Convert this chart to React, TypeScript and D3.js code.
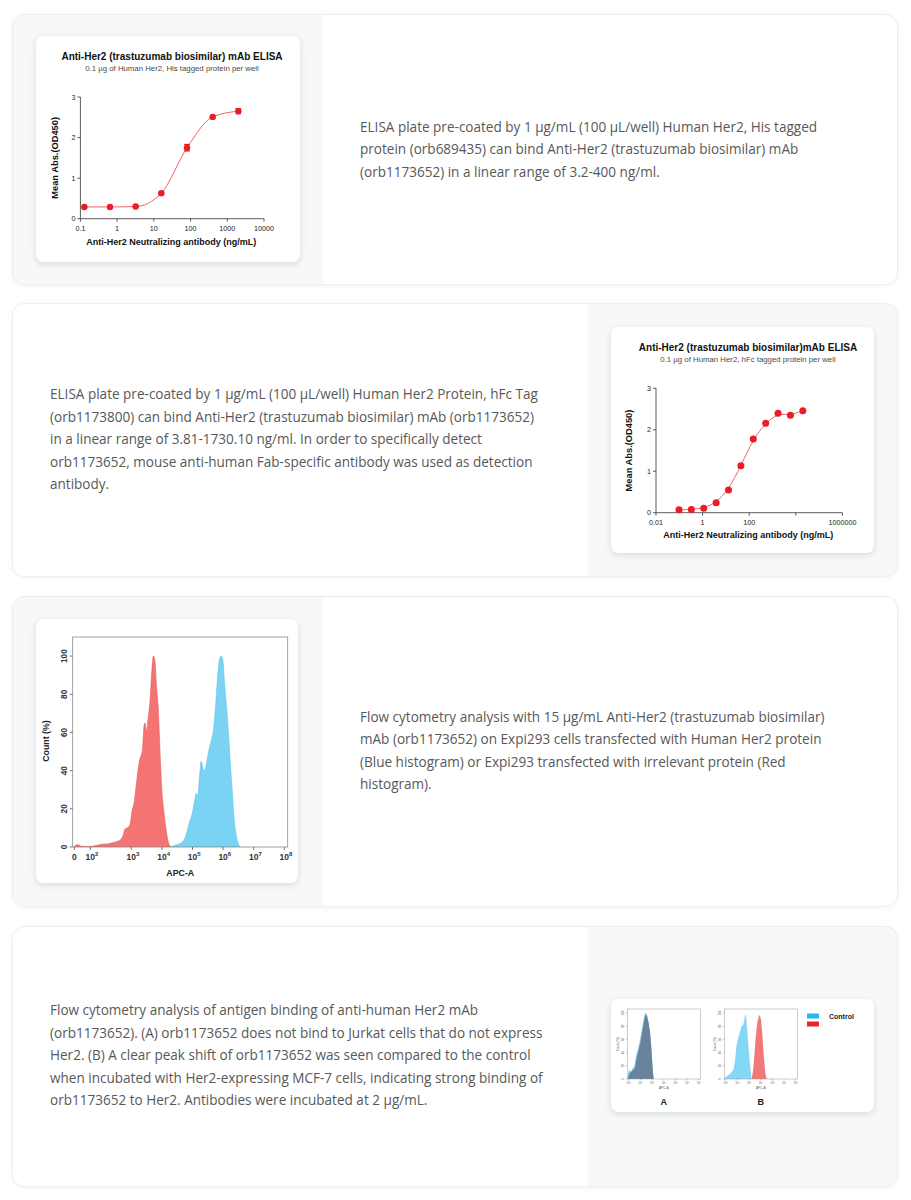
import React from "react";
import * as d3 from "d3";

// ---------- DATA ----------
const elisa1Conc = [0.128, 0.64, 3.2, 16, 80, 400, 2000];
const elisa1OD = [0.29, 0.29, 0.3, 0.63, 1.75, 2.51, 2.65];
const elisa1Err = [0.01, 0.01, 0.01, 0.02, 0.08, 0.02, 0.06];
const elisa1XTicks = [0.1, 1, 10, 100, 1000, 10000];
const elisa1XLabels = ["0.1", "1", "10", "100", "1000", "10000"];

const elisa2Conc = [0.0969, 0.329, 1.12, 3.81, 12.95, 44.0, 149.7, 509, 1730.1, 5882, 20000];
const elisa2OD = [0.07, 0.08, 0.11, 0.24, 0.55, 1.13, 1.78, 2.16, 2.4, 2.35, 2.46];
const elisa2XTicks = [0.01, 1, 100, 10000, 1000000];
const elisa2XLabels = ["0.01", "1", "100", "", "1000000"];

const elisaYTicks = [0, 1, 2, 3];

// flow cytometry (x in log10 APC-A decades, 0 = zero), y = Count (%)
const flowRedX = [0, 0.21, 0.54, 0.83, 1.25, 2.02, 2.14, 2.3, 2.42, 2.54, 2.67, 2.75, 2.8, 2.85, 2.93, 2.98, 3.02, 3.1, 3.15, 3.26, 3.37, 3.42, 3.45, 3.5, 3.55, 3.61, 3.67, 3.72, 3.77, 3.82, 3.88, 3.93, 3.99, 4.07, 4.15, 4.21, 4.29];
const flowRedY = [0, 1, 1.2, 0.4, 0.2, 0.3, 0.8, 1.5, 1.6, 2.2, 3, 4, 6, 9.5, 10.4, 13, 18.6, 24, 31, 44.6, 51.7, 64, 65, 60.5, 67.5, 76.3, 92, 100, 98, 85, 72.8, 53.4, 32, 18, 7.7, 2.5, 0];
const flowBlueX = [4.29, 4.39, 4.55, 4.66, 4.74, 4.83, 4.9, 4.99, 5.08, 5.12, 5.17, 5.24, 5.28, 5.35, 5.4, 5.48, 5.55, 5.62, 5.69, 5.75, 5.81, 5.88, 5.94, 5.99, 6.05, 6.11, 6.18, 6.23, 6.29, 6.35, 6.43, 6.5, 6.58];
const flowBlueY = [0, 0.7, 1.5, 2.5, 4, 8.6, 13, 17.4, 25, 28, 27, 39, 45, 41, 40, 46, 51.7, 56, 62, 72.8, 86.8, 98, 100, 98, 85, 73.6, 58.7, 44.6, 32, 16.5, 6, 1.6, 0];
const flowXTicks = [0, 2, 3, 4, 5, 6, 7, 8];
const flowYTicks = [0, 20, 40, 60, 80, 100];

// small panels A / B
const aBlueX = [0.9, 0.94, 1.05, 1.18, 1.32, 1.47, 1.62, 1.78, 1.93, 2.08, 2.23, 2.37, 2.48, 2.6, 2.74, 2.88, 3.0, 3.12];
const aBlueY = [0, 8, 14, 11, 16, 19, 35, 45, 57, 70, 86, 99, 100, 93, 80, 57, 26, 0];
const aDarkX = [0.95, 0.99, 1.1, 1.25, 1.39, 1.53, 1.68, 1.82, 1.96, 2.11, 2.25, 2.39, 2.54, 2.68, 2.82, 2.94, 3.05, 3.14];
const aDarkY = [0, 4, 9, 11.6, 14, 16.7, 31.8, 42, 52, 67, 82, 95, 97.5, 87, 72, 47, 14, 0];
const bBlueX = [0.9, 0.93, 1.075, 1.36, 1.65, 1.79, 1.93, 2.07, 2.22, 2.36, 2.5, 2.64, 2.73, 2.84, 2.96, 3.07, 3.21];
const bBlueY = [0, 1.5, 4, 7.6, 14, 27, 52, 62, 72, 80, 82, 95, 97.5, 72, 47, 22, 0];
const bRedX = [3.21, 3.36, 3.5, 3.64, 3.79, 3.87, 3.99, 4.13, 4.27, 4.41, 4.53];
const bRedY = [0, 16.7, 47, 77, 92, 96.5, 92, 67, 32, 6.6, 0];
const smallXTicks = [1, 2, 3, 4, 5, 6, 7];
const smallYTicks = [0, 20, 40, 60, 80, 100];

const text1 = [
  "ELISA plate pre-coated by 1 µg/mL (100 µL/well) Human Her2, His tagged",
  "protein (orb689435) can bind Anti-Her2 (trastuzumab biosimilar) mAb",
  "(orb1173652) in a linear range of 3.2-400 ng/ml.",
];
const text2 = [
  "ELISA plate pre-coated by 1 µg/mL (100 µL/well) Human Her2 Protein, hFc Tag",
  "(orb1173800) can bind Anti-Her2 (trastuzumab biosimilar) mAb (orb1173652)",
  "in a linear range of 3.81-1730.10 ng/ml. In order to specifically detect",
  "orb1173652, mouse anti-human Fab-specific antibody was used as detection",
  "antibody.",
];
const text3 = [
  "Flow cytometry analysis with 15 µg/mL Anti-Her2 (trastuzumab biosimilar)",
  "mAb (orb1173652) on Expi293 cells transfected with Human Her2 protein",
  "(Blue histogram) or Expi293 transfected with irrelevant protein (Red",
  "histogram).",
];
const text4 = [
  "Flow cytometry analysis of antigen binding of anti-human Her2 mAb",
  "(orb1173652). (A) orb1173652 does not bind to Jurkat cells that do not express",
  "Her2. (B) A clear peak shift of orb1173652 was seen compared to the control",
  "when incubated with Her2-expressing MCF-7 cells, indicating strong binding of",
  "orb1173652 to Her2. Antibodies were incubated at 2 µg/mL.",
];

// ---------- STYLE ----------
const SANS = "'Liberation Sans', Arial, Helvetica, sans-serif";
const BODY = "'Open Sans', 'Noto Sans', sans-serif";
const TEXT_COLOR = "#585858";
const AXIS = "#333";

function Card({ id, y, h, side }: { id: string; y: number; h: number; side: "left" | "right" }) {
  const x = 12.5, w = 885, r = 12, pw = 310;
  return (
    <g>
      <defs>
        <clipPath id={id}>
          <rect x={x} y={y} width={w} height={h} rx={r} />
        </clipPath>
      </defs>
      <rect x={x} y={y} width={w} height={h} rx={r} fill="#fff" filter="url(#cardShadow)" />
      <g clipPath={`url(#${id})`}>
        <rect x={side === "left" ? x : x + w - pw} y={y} width={pw} height={h} fill="#f7f8fa" />
      </g>
      <rect x={x} y={y} width={w} height={h} rx={r} fill="none" stroke="#eceef1" strokeWidth={1} />
    </g>
  );
}

function Paragraph({ x, y, lines }: { x: number; y: number; lines: string[] }) {
  return (
    <text fontFamily={BODY} fontSize={13.55} fill={TEXT_COLOR}>
      {lines.map((l, i) => (
        <tspan key={i} x={x} y={y + i * 22.5}>
          {l}
        </tspan>
      ))}
    </text>
  );
}

function Box({ x, y, w, h }: { x: number; y: number; w: number; h: number }) {
  return <rect x={x} y={y} width={w} height={h} rx={8} fill="#fff" filter="url(#boxShadow)" />;
}

type ElisaProps = {
  conc: number[];
  od: number[];
  err?: number[];
  xDomain: [number, number];
  xRange: [number, number];
  yRange: [number, number];
  xTicks: number[];
  xLabels: string[];
  title: string;
  subtitle: string;
  cx: number;
  titleY: number;
  yTitleX: number;
  xTitleY: number;
  curve: d3.CurveFactory;
  r: number;
};

function Elisa(p: ElisaProps) {
  const x = d3.scaleLog().domain(p.xDomain).range(p.xRange);
  const y = d3.scaleLinear().domain([0, 3]).range(p.yRange);
  const pts = p.conc.map((c, i) => [x(c), y(p.od[i])] as [number, number]);
  const line = d3.line().curve(p.curve)(pts) || "";
  const x0 = p.xRange[0];
  const y0 = p.yRange[0];
  return (
    <g fontFamily={SANS}>
      <text x={p.cx} y={p.titleY} textAnchor="middle" fontWeight="bold" fontSize={10} fill="#111">
        {p.title}
      </text>
      <text x={p.cx} y={p.titleY + 11} textAnchor="middle" fontSize={7.8} fill="#4a4a4a">
        {p.subtitle}
      </text>
      <line x1={x0} x2={x0} y1={y0} y2={p.yRange[1]} stroke={AXIS} strokeWidth={0.8} />
      <line x1={x0} x2={p.xRange[1]} y1={y0} y2={y0} stroke={AXIS} strokeWidth={0.8} />
      {elisaYTicks.map((t) => (
        <g key={t}>
          <line x1={x0 - 3} x2={x0} y1={y(t)} y2={y(t)} stroke={AXIS} strokeWidth={0.8} />
          <text x={x0 - 5} y={y(t) + 2.5} textAnchor="end" fontSize={7.2} fill="#222">
            {t}
          </text>
        </g>
      ))}
      {p.xTicks.map((t, i) => (
        <g key={t}>
          <line x1={x(t)} x2={x(t)} y1={y0} y2={y0 + 3} stroke={AXIS} strokeWidth={0.8} />
          <text x={x(t)} y={y0 + 12} textAnchor="middle" fontSize={7.2} fill="#222">
            {p.xLabels[i]}
          </text>
        </g>
      ))}
      <text
        transform={`translate(${p.yTitleX},${(p.yRange[0] + p.yRange[1]) / 2}) rotate(-90)`}
        textAnchor="middle"
        fontWeight="bold"
        fontSize={9.3}
        fill="#111"
      >
        Mean Abs.(OD450)
      </text>
      <text x={(p.xRange[0] + p.xRange[1]) / 2 - 1} y={p.xTitleY} textAnchor="middle" fontWeight="bold" fontSize={9} fill="#111">
        Anti-Her2 Neutralizing antibody (ng/mL)
      </text>
      <path d={line} fill="none" stroke="#f26464" strokeWidth={1} />
      {p.err &&
        p.conc.map((c, i) => (
          <g key={"e" + i} stroke="#e8141c" strokeWidth={1.2}>
            <line x1={x(c)} x2={x(c)} y1={y(p.od[i] - p.err![i])} y2={y(p.od[i] + p.err![i])} />
            <line x1={x(c) - 2.8} x2={x(c) + 2.8} y1={y(p.od[i] - p.err![i])} y2={y(p.od[i] - p.err![i])} />
            <line x1={x(c) - 2.8} x2={x(c) + 2.8} y1={y(p.od[i] + p.err![i])} y2={y(p.od[i] + p.err![i])} />
          </g>
        ))}
      {pts.map((q, i) => (
        <circle key={i} cx={q[0]} cy={q[1]} r={p.r} fill="#ec1c24" />
      ))}
    </g>
  );
}

function areaPath(xs: number[], ys: number[], xs_: (v: number) => number, ysc: (v: number) => number, curve: d3.CurveFactory) {
  const data = xs.map((v, i) => [v, ys[i]] as [number, number]);
  return (
    d3
      .area<[number, number]>()
      .x((d) => xs_(d[0]))
      .y0(ysc(0))
      .y1((d) => ysc(d[1]))
      .curve(curve)(data) || ""
  );
}

function FlowMain() {
  const fx = 72.7, fy = 637, fw = 215, fh = 210;
  const x = d3.scaleLinear().domain([0, 2, 3, 8]).range([74.3, 90.3, 131.3, 284.3]);
  const y = d3.scaleLinear().domain([0, 110]).range([fy + fh, fy]);
  return (
    <g fontFamily={SANS}>
      <defs>
        <clipPath id="flowClip">
          <rect x={fx} y={fy} width={fw} height={fh} />
        </clipPath>
      </defs>
      <g clipPath="url(#flowClip)">
        <path d={areaPath(flowRedX, flowRedY, x, y, d3.curveMonotoneX)} fill="#f47474" stroke="#e65e5e" strokeWidth={0.6} />
        <path d={areaPath(flowBlueX, flowBlueY, x, y, d3.curveMonotoneX)} fill="#7ad3f2" stroke="#5cc3ea" strokeWidth={0.6} />
      </g>
      <rect x={fx} y={fy} width={fw} height={fh} fill="none" stroke="#8a8a8a" strokeWidth={0.8} />
      {flowYTicks.map((t) => (
        <g key={t}>
          <line x1={fx - 3} x2={fx} y1={y(t)} y2={y(t)} stroke="#555" strokeWidth={0.8} />
          <text transform={`translate(${fx - 6},${y(t)}) rotate(-90)`} textAnchor="middle" fontSize={8.3} fontWeight="bold" fill="#333">
            {t}
          </text>
        </g>
      ))}
      {flowXTicks.map((t) => (
        <g key={t}>
          <line x1={x(t)} x2={x(t)} y1={fy + fh} y2={fy + fh + 3} stroke="#555" strokeWidth={0.8} />
          {t === 0 ? (
            <text x={x(t)} y={fy + fh + 12.5} textAnchor="middle" fontSize={8.5} fontWeight="bold" fill="#333">
              0
            </text>
          ) : (
            <text x={x(t) - 4.7} y={fy + fh + 12.5} fontSize={8.5} fontWeight="bold" fill="#333">
              10
              <tspan dy={-4} fontSize={6}>
                {t}
              </tspan>
            </text>
          )}
        </g>
      ))}
      <text transform={`translate(48.7,741) rotate(-90)`} textAnchor="middle" fontSize={8.8} fontWeight="bold" fill="#222">
        Count (%)
      </text>
      <text x={180.3} y={876} textAnchor="middle" fontSize={8.8} fontWeight="bold" fill="#222">
        APC-A
      </text>
    </g>
  );
}

function SmallPanel({ x0, label, children }: { x0: number; label: string; children: (x: any, y: any) => React.ReactNode }) {
  const fw = 73, fy = 1009, fh = 70;
  const x = d3.scaleLinear().domain([0.875, 7.125]).range([x0, x0 + fw]);
  const y = d3.scaleLinear().domain([0, 106]).range([fy + fh, fy]);
  return (
    <g fontFamily={SANS}>
      {children(x, y)}
      <rect x={x0} y={fy} width={fw} height={fh} fill="none" stroke="#9a9a9a" strokeWidth={0.5} />
      {smallYTicks.map((t) => (
        <g key={t}>
          <line x1={x0 - 1.5} x2={x0} y1={y(t)} y2={y(t)} stroke="#777" strokeWidth={0.4} />
          <text transform={`translate(${x0 - 3},${y(t)}) rotate(-90)`} textAnchor="middle" fontSize={2.8} fill="#666">
            {t}
          </text>
        </g>
      ))}
      {smallXTicks.map((t) => (
        <g key={t}>
          <line x1={x(t)} x2={x(t)} y1={fy + fh} y2={fy + fh + 1.5} stroke="#777" strokeWidth={0.4} />
          <text x={x(t)} y={fy + fh + 4.8} textAnchor="middle" fontSize={2.8} fill="#666">
            10
            <tspan dy={-1} fontSize={2.1}>
              {t}
            </tspan>
          </text>
        </g>
      ))}
      <text transform={`translate(${x0 - 8},${fy + fh / 2}) rotate(-90)`} textAnchor="middle" fontSize={3.2} fill="#555">
        Count (%)
      </text>
      <text x={x0 + fw / 2} y={fy + fh + 9.5} textAnchor="middle" fontSize={3.2} fill="#555">
        APC-A
      </text>
      <text x={x0 + fw / 2} y={1104.5} textAnchor="middle" fontSize={9} fontWeight="bold" fill="#222">
        {label}
      </text>
    </g>
  );
}

export default function App() {
  return (
    <svg width={911} height={1200} style={{ position: "absolute", left: 0, top: 0, background: "#fff" }}>
      <defs>
        <filter id="cardShadow" x="-5%" y="-10%" width="110%" height="125%">
          <feDropShadow dx="0" dy="1" stdDeviation="2.5" floodColor="#000" floodOpacity="0.05" />
        </filter>
        <filter id="boxShadow" x="-10%" y="-10%" width="120%" height="125%">
          <feDropShadow dx="0" dy="2" stdDeviation="3" floodColor="#000" floodOpacity="0.13" />
        </filter>
      </defs>
      <rect x={0} y={0} width={911} height={1200} fill="#fff" />

      {/* Card 1 */}
      <Card id="c1" y={14.5} h={270} side="left" />
      <Box x={36} y={36} w={264} h={226} />
      <Elisa
        conc={elisa1Conc}
        od={elisa1OD}
        err={elisa1Err}
        xDomain={[0.1, 10000]}
        xRange={[80.4, 264]}
        yRange={[218.7, 97]}
        xTicks={elisa1XTicks}
        xLabels={elisa1XLabels}
        title="Anti-Her2 (trastuzumab biosimilar) mAb ELISA"
        subtitle="0.1 µg of Human Her2, His tagged protein per well"
        cx={172}
        titleY={59.5}
        yTitleX={58}
        xTitleY={245}
        curve={d3.curveMonotoneX}
        r={3.2}
      />
      <Paragraph x={360} y={131.5} lines={text1} />

      {/* Card 2 */}
      <Card id="c2" y={303.5} h={273} side="right" />
      <Box x={611} y={327} w={263} h={226} />
      <Elisa
        conc={elisa2Conc}
        od={elisa2OD}
        xDomain={[0.01, 1000000]}
        xRange={[656, 842.4]}
        yRange={[512.7, 388.3]}
        xTicks={elisa2XTicks}
        xLabels={elisa2XLabels}
        title="Anti-Her2 (trastuzumab biosimilar)mAb ELISA"
        subtitle="0.1 µg of Human Her2, hFc tagged protein per well"
        cx={748}
        titleY={350.5}
        yTitleX={632}
        xTitleY={538}
        curve={d3.curveBasis}
        r={3.5}
      />
      <Paragraph x={50} y={399} lines={text2} />

      {/* Card 3 */}
      <Card id="c3" y={596.5} h={310} side="left" />
      <Box x={36} y={619} w={262} h={264} />
      <FlowMain />
      <Paragraph x={360} y={721.5} lines={text3} />

      {/* Card 4 */}
      <Card id="c4" y={926.5} h={260} side="right" />
      <Box x={611} y={999} w={263} h={113} />
      <SmallPanel x0={627.3} label="A">
        {(x, y) => (
          <g>
            <path d={areaPath(aBlueX, aBlueY, x, y, d3.curveLinear)} fill="#7fd0f0" />
            <path d={areaPath(aDarkX, aDarkY, x, y, d3.curveLinear)} fill="#687891" opacity={0.88} />
          </g>
        )}
      </SmallPanel>
      <SmallPanel x0={724.3} label="B">
        {(x, y) => (
          <g>
            <path d={areaPath(bBlueX, bBlueY, x, y, d3.curveLinear)} fill="#84d7f5" />
            <path d={areaPath(bRedX, bRedY, x, y, d3.curveMonotoneX)} fill="#f27878" />
          </g>
        )}
      </SmallPanel>
      <rect x={807} y={1013.5} width={12} height={5} fill="#29b6e8" />
      <rect x={807} y={1021.5} width={12} height={5} fill="#e8262b" />
      <text x={829} y={1018.5} fontFamily={SANS} fontSize={7} fontWeight="bold" fill="#222">
        Control
      </text>
      <Paragraph x={50} y={1015} lines={text4} />
    </svg>
  );
}
